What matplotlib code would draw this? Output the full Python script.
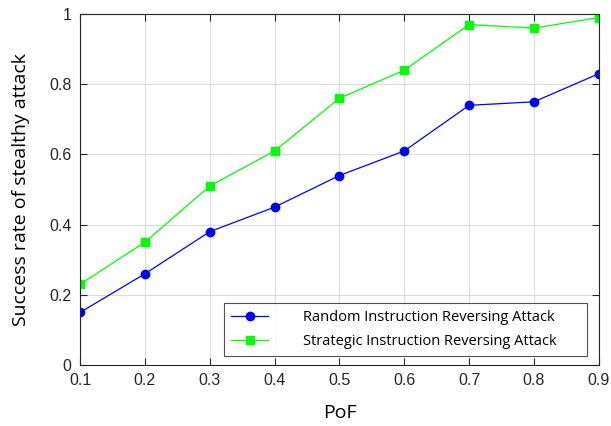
import matplotlib
matplotlib.use("Agg")
import matplotlib.pyplot as plt

# data
pof = [0.1, 0.2, 0.3, 0.4, 0.5, 0.6, 0.7, 0.8, 0.9]
random_attack = [0.15, 0.26, 0.38, 0.45, 0.54, 0.61, 0.74, 0.75, 0.83]
strategic_attack = [0.23, 0.35, 0.51, 0.61, 0.76, 0.84, 0.97, 0.96, 0.99]
x_ticks = [0.1, 0.2, 0.3, 0.4, 0.5, 0.6, 0.7, 0.8, 0.9]
y_ticks = [0, 0.2, 0.4, 0.6, 0.8, 1]
y_tick_labels = ["0", "0.2", "0.4", "0.6", "0.8", "1"]

fig = plt.figure(figsize=(6.11, 4.26), dpi=100)
ax = fig.add_axes([0.131, 0.143, 0.849, 0.824])

ax.plot(pof, random_attack, color="#0000ff", marker="o", markersize=6,
        linewidth=0.9, label="Random Instruction Reversing Attack")
ax.plot(pof, strategic_attack, color="#00ff00", marker="s", markersize=5.5,
        linewidth=0.9, label="Strategic Instruction Reversing Attack")

ax.set_xlim(0.1, 0.9)
ax.set_ylim(0, 1)
ax.set_xticks(x_ticks)
ax.set_xticklabels([f"{v:.1f}" for v in x_ticks])
ax.set_yticks(y_ticks)
ax.set_yticklabels(y_tick_labels)
ax.grid(True, color="#dcdcdc", linewidth=0.8)
ax.set_axisbelow(True)

for side in ax.spines.values():
    side.set_color("#262626")
    side.set_linewidth(0.8)
ax.tick_params(direction="in", top=True, right=True, length=5, width=0.8,
               color="#262626", labelsize=11.5, labelcolor="#262626", pad=6)
for lab in ax.get_xticklabels() + ax.get_yticklabels():
    lab.set_family("Liberation Sans")

ax.set_xlabel("PoF", fontsize=14, family="Open Sans", labelpad=11)
ax.set_ylabel("Success rate of stealthy attack", fontsize=14, family="Open Sans", labelpad=14)

# legend box placed like the MATLAB one (axes fractions)
leg = ax.legend(loc="lower left", bbox_to_anchor=(0.2775, 0.026, 0.699, 0.153),
                mode="expand", fancybox=False, frameon=True,
                prop={"family": "Open Sans", "size": 10.5},
                handlelength=2.6, borderpad=0.45, labelspacing=0.65,
                handletextpad=2.4, borderaxespad=0)
leg.get_frame().set_edgecolor("#262626")
leg.get_frame().set_linewidth(0.8)

fig.savefig("out.png", dpi=100)
